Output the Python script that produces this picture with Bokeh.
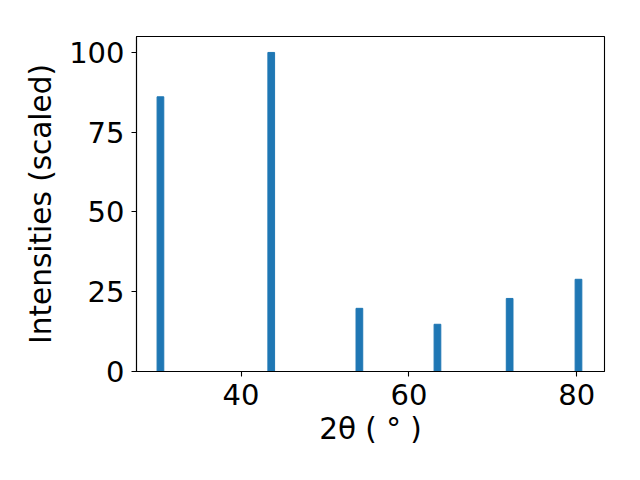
from bokeh.plotting import figure
from bokeh.models import Range1d, FixedTicker
from bokeh.embed import file_html
from bokeh.resources import INLINE

two_theta = [30.4, 43.6, 54.1, 63.4, 72.0, 80.2]
intensities = [86.1, 100.0, 19.8, 14.8, 22.9, 28.9]
x_ticks = [40, 60, 80]
y_ticks = [0, 25, 50, 75, 100]

p = figure(frame_width=468, frame_height=335, output_backend="svg", toolbar_location=None,
           x_range=Range1d(27.55, 83.3), y_range=Range1d(0, 105.0),
           min_border_left=136, min_border_top=36, min_border_right=20, min_border_bottom=100)
p.vbar(x=two_theta, top=intensities, width=0.8, bottom=0, color="#1f77b4")

p.xgrid.visible = False
p.ygrid.visible = False
p.outline_line_color = "black"
p.outline_line_width = 1.1
p.background_fill_color = "white"
p.border_fill_color = "white"

for ax in (p.xaxis[0], p.yaxis[0]):
    ax.axis_line_color = "black"
    ax.axis_line_width = 1.1
    ax.major_tick_line_color = "black"
    ax.major_tick_line_width = 1.1
    ax.major_tick_out = 5
    ax.major_tick_in = 0
    ax.minor_tick_line_color = None
    ax.major_label_text_font = "DejaVu Sans"
    ax.major_label_text_font_size = "29px"
    ax.major_label_text_color = "black"
    ax.axis_label_text_font = "DejaVu Sans"
    ax.axis_label_text_font_size = "29.5px"
    ax.axis_label_text_font_style = "normal"
    ax.axis_label_text_color = "black"
    ax.major_label_standoff = 7

p.xaxis[0].ticker = FixedTicker(ticks=x_ticks)
p.yaxis[0].ticker = FixedTicker(ticks=y_ticks)
p.xaxis[0].axis_label = "2θ ( ° )"
p.yaxis[0].axis_label = "Intensities (scaled)"
p.xaxis[0].axis_label_standoff = 4
p.yaxis[0].axis_label_standoff = 8

open("out.html", "w").write(file_html(p, INLINE))
